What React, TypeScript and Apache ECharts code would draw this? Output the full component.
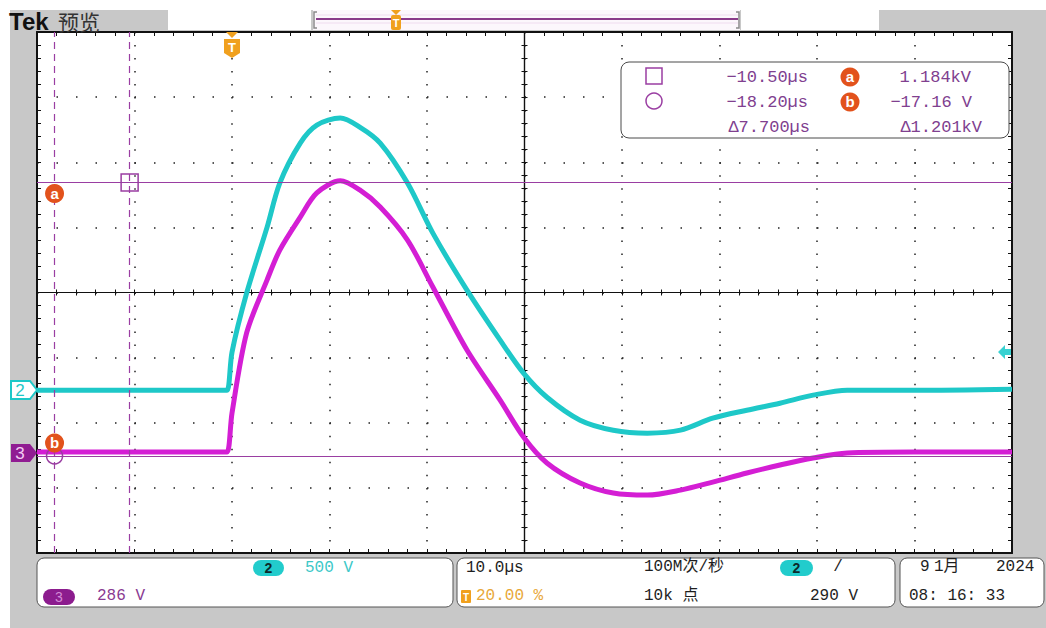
import React, { useEffect, useRef } from "react";
import * as echarts from "echarts";

// ---- data (time in µs, voltage in V) ----
const timeUs = [-20, -1, -0.5, 0, 1.5, 3.6, 4.9, 7.0, 8.7, 11.1, 13.1, 15.2, 18.0, 20.6, 24.1, 27.5, 29.9, 32.3, 35.7, 39.1, 42.6, 46.0, 49.3, 52.8, 56.2, 59.6, 63.1, 69.9, 80];
const ch2Volts = [0, 0, 0, 292, 745, 1252, 1590, 1897, 2035, 2089, 2020, 1897, 1590, 1206, 768, 384, 131, -54, -230, -307, -330, -307, -215, -154, -100, -38, 0, 0, 8];
const ch3Volts = [0, 0, 0, 171, 523, 756, 887, 1032, 1138, 1191, 1151, 1076, 931, 725, 448, 228, 66, -48, -136, -180, -189, -167, -132, -92, -57, -26, -4, 0, 0];

// scope settings
const timeMin = -20;
const timeMax = 80;
const timePerDiv = 10;
const ch2VoltsPerDiv = 500;
const ch3VoltsPerDiv = 286;
const ch2GroundDiv = -1.5;
const ch3GroundDiv = -2.45;

// cursors
const cursorTimes = [-10.5, -18.2];
const cursorVolts = [1184, -17.16];

// readouts
const readTimes = ["−10.50µs", "−18.20µs", "Δ7.700µs"];
const readVolts = ["1.184kV", "−17.16 V", "Δ1.201kV"];

const MONO = "'Liberation Mono', 'DejaVu Sans Mono', 'Noto Sans CJK SC', monospace";
const CJK = "'Noto Sans CJK SC', sans-serif";
const SANS = "'Liberation Sans', Arial, sans-serif";
const PURPLE = "#9a3ea2";
const TXT_PURPLE = "#80408f";
const CYAN = "#1ec8c8";
const MAGENTA = "#d41ed4";
const ORANGE = "#f0a01e";
const BADGE = "#e2521c";

function txt(text: string, x: number, y: number, o: any = {}) {
  return {
    type: "text",
    z: 110,
    x,
    y,
    style: {
      text,
      fill: o.fill || "#1e1e1e",
      fontSize: o.size || 16,
      fontFamily: o.family || MONO,
      fontWeight: o.weight || "normal",
      align: o.align || "left",
      textAlign: o.align || "left",
      verticalAlign: "middle",
      textVerticalAlign: "middle",
    },
  };
}

function rect(x: number, y: number, w: number, h: number, style: any, r = 0, z = 100) {
  return { type: "rect", z, shape: { x, y, width: w, height: h, r }, style };
}

const tickStyle = { color: "#111", width: 1 };

function xAxisDef(position: string, offset: number, inside: boolean, len: number, split: boolean, lineW: number) {
  return {
    type: "value",
    min: timeMin,
    max: timeMax,
    interval: timePerDiv,
    position,
    offset,
    axisLine: { show: true, onZero: false, lineStyle: { color: "#111", width: lineW } },
    axisTick: { show: true, inside, length: len, lineStyle: tickStyle },
    minorTick: { show: true, splitNumber: 5, length: len, lineStyle: tickStyle },
    axisLabel: { show: false },
    splitLine: split
      ? { show: true, lineStyle: { color: "#222", width: 1.5, type: [1.5, 11.525] } }
      : { show: false },
  };
}

function yAxisDef(position: string, offset: number, inside: boolean, len: number, split: boolean, lineW: number) {
  return {
    type: "value",
    min: -4,
    max: 4,
    interval: 1,
    position,
    offset,
    axisLine: { show: true, onZero: false, lineStyle: { color: "#111", width: lineW } },
    axisTick: { show: true, inside, length: len, lineStyle: tickStyle },
    minorTick: { show: true, splitNumber: 5, length: len, lineStyle: tickStyle },
    axisLabel: { show: false },
    splitLine: split
      ? { show: true, lineStyle: { color: "#222", width: 1.5, type: [1.5, 18.0] } }
      : { show: false },
  };
}

export default function App() {
  const ref = useRef<HTMLDivElement>(null);

  useEffect(() => {
    if (!ref.current) return;
    const chart = echarts.init(ref.current, undefined, { renderer: "svg" });

    const ch2Data = timeUs.map((t, i) => [t, ch2Volts[i]]);
    const ch3Data = timeUs.map((t, i) => [t, ch3Volts[i]]);

    const graphic: any[] = [
      // backgrounds
      rect(10, 10, 1036, 618, { fill: "#c8c8c8" }, 0, -10),
      rect(37, 32, 975, 521, { fill: "#ffffff" }, 0, -9),
      // header
      txt("Tek", 9, 21, { family: SANS, weight: "bold", size: 24, fill: "#111" }),
      txt("预览", 58, 21, { family: CJK, size: 21, fill: "#333" }),
      rect(168, 10, 143, 20, { fill: "#ffffff" }),
      rect(313, 10, 427, 20, { fill: "#fcf7fc" }),
      rect(741, 10, 138, 20, { fill: "#ffffff" }),
      { type: "line", z: 101, shape: { x1: 316, y1: 15, x2: 738, y2: 15 }, style: { stroke: "#efdcef", lineWidth: 1 } },
      { type: "line", z: 101, shape: { x1: 316, y1: 23, x2: 738, y2: 23 }, style: { stroke: "#efdcef", lineWidth: 1 } },
      { type: "line", z: 102, shape: { x1: 316, y1: 19, x2: 738, y2: 19 }, style: { stroke: "#8a3a8a", lineWidth: 2 } },
      { type: "polyline", z: 102, shape: { points: [[317, 12], [314, 12], [314, 28], [317, 28]] }, style: { stroke: "#8a8a8a", lineWidth: 1.5, fill: "none" } },
      { type: "polyline", z: 102, shape: { points: [[736, 12], [739, 12], [739, 28], [736, 28]] }, style: { stroke: "#8a8a8a", lineWidth: 1.5, fill: "none" } },
      // record-view trigger marker
      { type: "polygon", z: 103, shape: { points: [[391, 10], [401, 10], [396, 15]] }, style: { fill: ORANGE } },
      rect(391, 15, 10, 15, { fill: ORANGE }, 2, 103),
      txt("T", 396, 23, { family: SANS, weight: "bold", size: 11, fill: "#fff", align: "center" }),
      // trigger position marker on top of plot
      { type: "polygon", z: 103, shape: { points: [[226, 32], [238, 32], [232, 38]] }, style: { fill: ORANGE } },
      { type: "polygon", z: 103, shape: { points: [[224, 39], [240, 39], [240, 53], [232, 58], [224, 53]] }, style: { fill: ORANGE } },
      txt("T", 232, 47, { family: SANS, weight: "bold", size: 13, fill: "#fff", align: "center" }),
      // channel ground markers
      { type: "polygon", z: 103, shape: { points: [[11, 381], [30, 381], [37, 390], [30, 399], [11, 399]] }, style: { fill: "#fff", stroke: CYAN, lineWidth: 2 } },
      txt("2", 20, 390, { family: SANS, size: 17, fill: CYAN, align: "center" }),
      { type: "polygon", z: 103, shape: { points: [[11, 444], [30, 444], [37, 453], [30, 462], [11, 462]] }, style: { fill: "#901c92" } },
      txt("3", 20, 453, { family: SANS, size: 17, fill: "#f2cdf2", align: "center" }),
      // trigger level arrow (right)
      { type: "polygon", z: 103, shape: { points: [[998, 352], [1005, 345], [1005, 349], [1011, 349], [1011, 355], [1005, 355], [1005, 359]] }, style: { fill: "#38d2d2" } },
      // measurement box
      rect(621, 62, 388, 76, { fill: "#ffffff", stroke: "#4a4a4a", lineWidth: 1 }, 8, 100),
      rect(646, 68, 16, 16, { fill: "none", stroke: PURPLE, lineWidth: 1.5 }, 0, 105),
      { type: "circle", z: 105, shape: { cx: 654, cy: 101, r: 8 }, style: { fill: "none", stroke: PURPLE, lineWidth: 1.5 } },
      txt(readTimes[0], 808, 77, { fill: TXT_PURPLE, size: 17, align: "right" }),
      txt(readTimes[1], 808, 102, { fill: TXT_PURPLE, size: 17, align: "right" }),
      txt(readTimes[2], 810, 127, { fill: TXT_PURPLE, size: 17, align: "right" }),
      { type: "circle", z: 105, shape: { cx: 850, cy: 77, r: 9.5 }, style: { fill: BADGE } },
      txt("a", 850, 76, { family: SANS, weight: "bold", size: 15, fill: "#fff", align: "center" }),
      { type: "circle", z: 105, shape: { cx: 850, cy: 102, r: 9.5 }, style: { fill: BADGE } },
      txt("b", 850, 101, { family: SANS, weight: "bold", size: 15, fill: "#fff", align: "center" }),
      txt(readVolts[0], 971, 77, { fill: TXT_PURPLE, size: 17, align: "right" }),
      txt(readVolts[1], 972, 102, { fill: TXT_PURPLE, size: 17, align: "right" }),
      txt(readVolts[2], 982, 127, { fill: TXT_PURPLE, size: 17, align: "right" }),
      // bottom panels
      rect(37, 558, 416, 49, { fill: "#ffffff", stroke: "#555", lineWidth: 1 }, 7, 100),
      rect(457, 558, 438, 49, { fill: "#ffffff", stroke: "#555", lineWidth: 1 }, 7, 100),
      rect(900, 558, 144, 49, { fill: "#ffffff", stroke: "#555", lineWidth: 1 }, 7, 100),
      // panel 1
      rect(253, 560, 31, 16, { fill: "#22cccc" }, 8, 105),
      txt("2", 268.5, 568, { family: SANS, weight: "bold", size: 14, fill: "#0c2a2a", align: "center" }),
      txt("500 V", 305, 568, { fill: "#3cc8c8" }),
      rect(43, 589, 32, 16, { fill: "#8c1c8e" }, 8, 105),
      txt("3", 59, 597, { family: SANS, size: 14, fill: "#d48ad6", align: "center" }),
      txt("286 V", 97, 596, { fill: "#8a3a92" }),
      // panel 2
      txt("10.0µs", 466, 568, {}),
      rect(461, 590, 10, 13, { fill: ORANGE }, 1, 105),
      txt("T", 466, 597, { family: SANS, weight: "bold", size: 10, fill: "#fff", align: "center" }),
      txt("20.00 %", 476, 596, { fill: "#e8a83a" }),
      txt("100M次/秒", 644, 567, {}),
      txt("10k 点", 644, 596, {}),
      rect(780, 560, 33, 16, { fill: "#22cccc" }, 8, 105),
      txt("2", 796.5, 568, { family: SANS, weight: "bold", size: 14, fill: "#0c2a2a", align: "center" }),
      txt("/", 838, 567, { align: "center" }),
      txt("290 V", 810, 596, {}),
      // panel 3
      txt("9", 920, 567, {}),
      txt("1月", 934, 567, {}),
      txt("2024", 996, 567, {}),
      txt("08: 16: 33", 909, 596, {}),
    ];

    const option: any = {
      animation: false,
      backgroundColor: "transparent",
      grid: { left: 37, top: 32, width: 975, height: 521, show: false, containLabel: false, outerBoundsMode: "none" },
      xAxis: [
        xAxisDef("bottom", 0, true, 4, true, 2),
        xAxisDef("top", 0, true, 4, false, 2),
        xAxisDef("bottom", -260.5, true, 3, false, 1.2),
        xAxisDef("bottom", -260.5, false, 3, false, 1.2),
      ],
      yAxis: [
        yAxisDef("left", 0, true, 4, true, 2),
        yAxisDef("right", 0, true, 4, false, 2),
        yAxisDef("left", -487.5, true, 3, false, 1.2),
        yAxisDef("left", -487.5, false, 3, false, 1.2),
        {
          type: "value",
          show: false,
          min: (-4 - ch2GroundDiv) * ch2VoltsPerDiv,
          max: (4 - ch2GroundDiv) * ch2VoltsPerDiv,
          splitLine: { show: false },
        },
        {
          type: "value",
          show: false,
          min: (-4 - ch3GroundDiv) * ch3VoltsPerDiv,
          max: (4 - ch3GroundDiv) * ch3VoltsPerDiv,
          splitLine: { show: false },
        },
      ],
      series: [
        {
          name: "CH2",
          type: "line",
          xAxisIndex: 0,
          yAxisIndex: 4,
          data: ch2Data,
          symbol: "none",
          smooth: 0.3,
          z: 3,
          lineStyle: { color: CYAN, width: 5 },
          silent: true,
        },
        {
          name: "CH3",
          type: "line",
          xAxisIndex: 0,
          yAxisIndex: 5,
          data: ch3Data,
          symbol: "none",
          smooth: 0.3,
          z: 4,
          lineStyle: { color: MAGENTA, width: 5 },
          silent: true,
          markLine: {
            silent: true,
            symbol: ["none", "none"],
            label: { show: false },
            lineStyle: { color: PURPLE, width: 1.2, type: "solid" },
            data: [
              { yAxis: cursorVolts[0] },
              { yAxis: cursorVolts[1] },
              { xAxis: cursorTimes[0], lineStyle: { color: PURPLE, width: 1.2, type: [7, 5] } },
              { xAxis: cursorTimes[1], lineStyle: { color: PURPLE, width: 1.2, type: [7, 5] } },
            ],
          },
          markPoint: {
            silent: true,
            data: [
              {
                coord: [cursorTimes[0], cursorVolts[0]],
                symbol: "rect",
                symbolSize: 17,
                itemStyle: { color: "rgba(0,0,0,0)", borderColor: PURPLE, borderWidth: 1.5 },
                label: { show: false },
              },
              {
                coord: [cursorTimes[1], cursorVolts[1]],
                symbol: "circle",
                symbolSize: 16,
                itemStyle: { color: "rgba(0,0,0,0)", borderColor: PURPLE, borderWidth: 1.5 },
                label: { show: false },
              },
              {
                coord: [cursorTimes[1], cursorVolts[0]],
                symbol: "circle",
                symbolSize: 19,
                symbolOffset: [0, 11],
                itemStyle: { color: BADGE },
                label: { show: true, position: "inside", formatter: "a", color: "#fff", fontWeight: "bold", fontSize: 15, fontFamily: SANS },
              },
              {
                coord: [cursorTimes[1], cursorVolts[1]],
                symbol: "circle",
                symbolSize: 19,
                symbolOffset: [0, -13],
                itemStyle: { color: BADGE },
                label: { show: true, position: "inside", formatter: "b", color: "#fff", fontWeight: "bold", fontSize: 15, fontFamily: SANS },
              },
            ],
          },
        },
      ],
      graphic,
    };

    chart.setOption(option);
    return () => chart.dispose();
  }, []);

  return (
    <div
      ref={ref}
      style={{ position: "absolute", left: 0, top: 0, width: 1046, height: 628, background: "#ffffff" }}
    />
  );
}
